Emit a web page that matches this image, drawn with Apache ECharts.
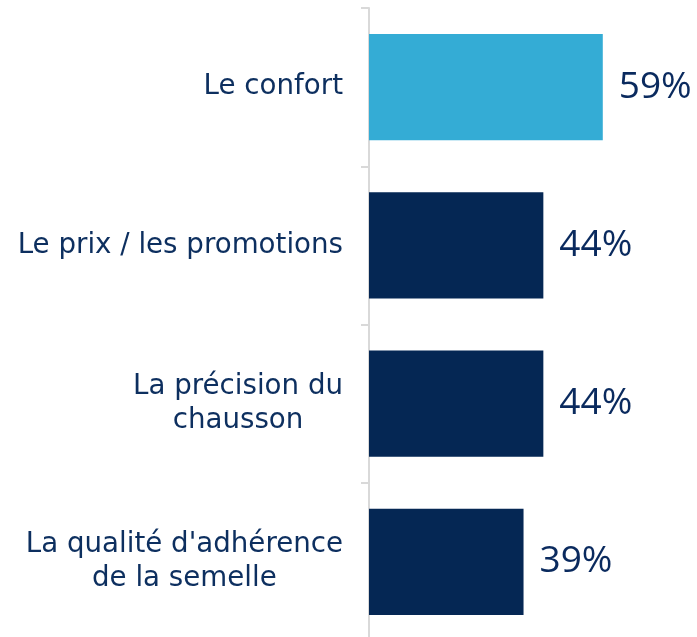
<!DOCTYPE html>
<html lang="fr">
<head>
<meta charset="utf-8">
<title>chart</title>
<script src="https://cdn.jsdelivr.net/npm/echarts@6/dist/echarts.min.js"></script>
<style>
  html, body { margin: 0; padding: 0; background: #fff; }
  #main { width: 697px; height: 637px; }
</style>
</head>
<body>
<div id="main"></div>
<script>
var categories = ['Le confort', 'Le prix / les promotions', 'La précision du\nchausson', "La qualité d'adhérence\nde la semelle"];
var values = [59, 44, 44, 39];
var barColors = ['#34acd5', '#052754', '#052754', '#052754'];

var chart = echarts.init(document.getElementById('main'));

var option = {
    backgroundColor: '#fff',
    animation: false,
    grid: { left: 369, width: 317, top: 8, height: 633, outerBoundsMode: 'none' },
    xAxis: {
        type: 'value',
        min: 0,
        max: 80,
        show: false
    },
    yAxis: {
        type: 'category',
        inverse: true,
        data: categories,
        axisLine: { lineStyle: { color: '#d9d9d9', width: 2 } },
        axisTick: { show: true, length: 8, lineStyle: { color: '#d9d9d9', width: 2 } },
        axisLabel: {
            margin: 26,
            color: '#0d2f5f',
            fontFamily: 'DejaVu Sans',
            fontSize: 27.7,
            lineHeight: 34,
            formatter: function (v) {
                return v.split('\n').map(function (s) { return '{c|' + s + '}'; }).join('\n');
            },
            rich: {
                c: { align: 'center', color: '#0d2f5f', fontFamily: 'DejaVu Sans', fontSize: 27.7, lineHeight: 34 }
            }
        }
    },
    series: [{
        type: 'bar',
        barCategoryGap: '33%',
        data: values.map(function (v, i) {
            return { value: v, itemStyle: { color: barColors[i] } };
        }),
        label: {
            show: true,
            position: 'right',
            distance: 16,
            formatter: '{c}%',
            color: '#0a2a5e',
            fontFamily: 'Open Sans',
            fontSize: 37
        }
    }]
};

chart.setOption(option);
</script>
</body>
</html>
